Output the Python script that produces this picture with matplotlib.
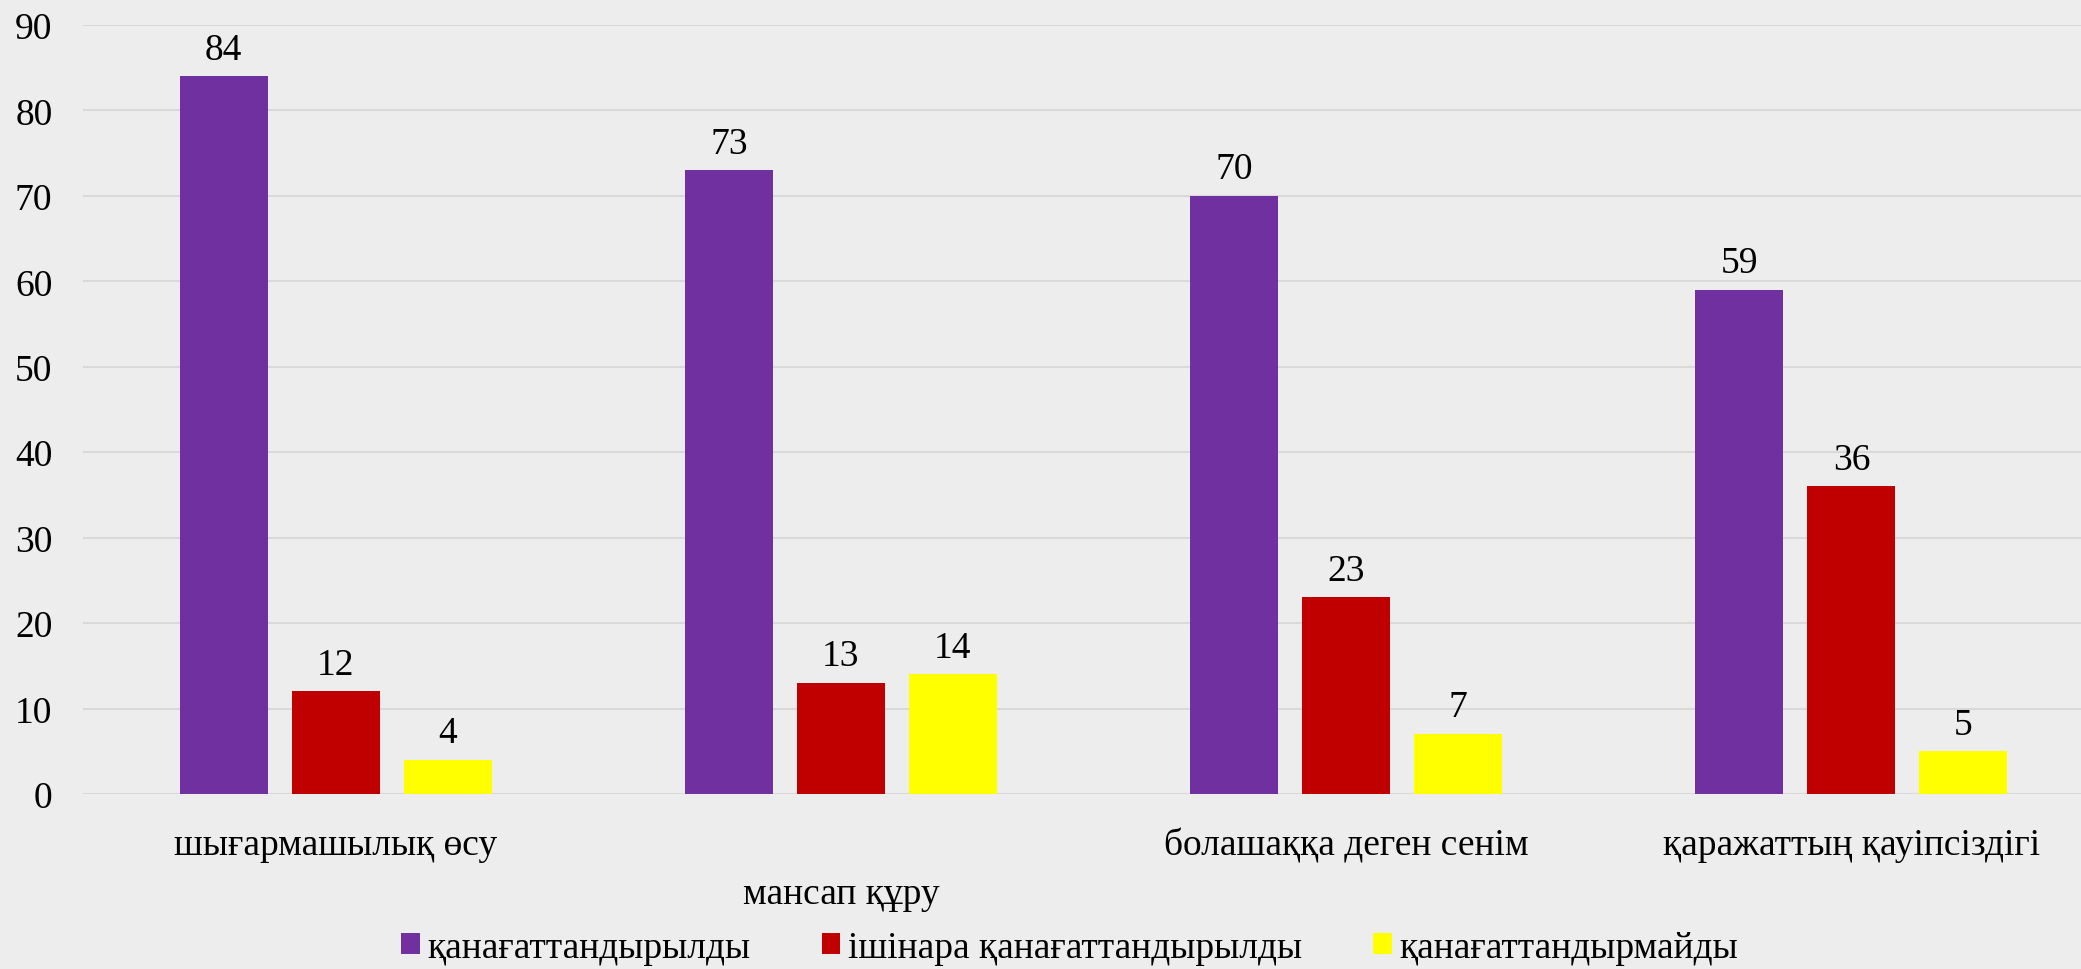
import matplotlib.pyplot as plt
import numpy as np

plt.rcParams['font.family'] = ['Liberation Serif', 'DejaVu Serif']

categories = ['шығармашылық өсу', 'мансап құру', 'болашаққа деген сенім', 'қаражаттың қауіпсіздігі']
series_names = ['қанағаттандырылды', 'ішінара қанағаттандырылды', 'қанағаттандырмайды']
satisfied = [84, 73, 70, 59]
partly = [12, 13, 23, 36]
not_satisfied = [4, 14, 7, 5]
colors = ['#7030A0', '#C00000', '#FFFF00']
yticks = list(range(0, 100, 10))

bg = '#EDEDED'
fig = plt.figure(figsize=(20.81, 9.70), dpi=100, facecolor=bg)
ax = fig.add_axes([83 / 2081, 175 / 970, 2021 / 2081, 769 / 970])
ax.set_facecolor(bg)

x = np.arange(len(categories))
w = 0.174
step = 0.2217
fs = 27
for i, (vals, name, c) in enumerate(zip([satisfied, partly, not_satisfied], series_names, colors)):
    bars = ax.bar(x + (i - 1) * step, vals, w, color=c, label=name, zorder=3)
    ax.bar_label(bars, padding=7, fontsize=fs)

ax.set_xlim(-0.5, len(categories) - 0.5)
ax.set_ylim(0, 90)
ax.set_yticks(yticks)
ax.set_xticks(x)
# подписи как в excel - вторая смещена вниз
labels = [c if i != 1 else '\n' + c for i, c in enumerate(categories)]
ax.set_xticklabels(labels, fontsize=fs, linespacing=1.55)
ax.tick_params(axis='x', length=0, pad=24)
ax.tick_params(axis='y', length=0, pad=22, labelsize=fs)
ax.grid(axis='y', color='#D9D9D9', linewidth=1.5, zorder=0)
for s in ax.spines.values():
    s.set_visible(False)

fig.legend(loc='center', bbox_to_anchor=(0.514, 0.022), ncol=3, frameon=False,
           fontsize=fs, handlelength=0.5, handleheight=0.5, handletextpad=0.2,
           columnspacing=1.9)

fig.savefig('out.png', dpi=100, facecolor=bg)
